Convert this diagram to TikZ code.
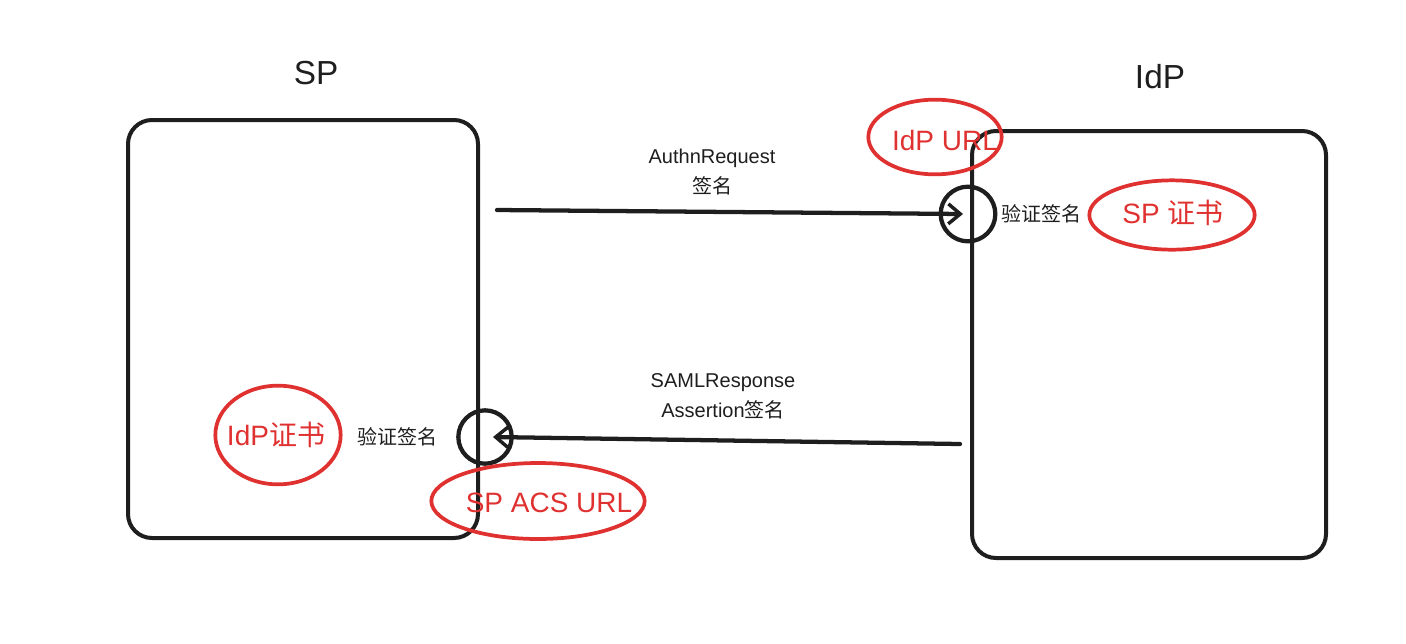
\documentclass[tikz,border=0pt]{standalone}
\usepackage{fontspec}
\setmainfont{Liberation Sans}
\newfontfamily\cjk{Noto Sans CJK SC}
\usetikzlibrary{arrows.meta,positioning}
\definecolor{inkblack}{HTML}{1E1E1E}
\definecolor{inkred}{HTML}{E03131}

\begin{document}
\begin{tikzpicture}
    [x=0.75pt,y=-0.75pt,
     party/.style={draw=inkblack,line width=3pt,rounded corners=18pt,inner sep=0pt},
     title/.style={font=\fontsize{25}{30}\selectfont,text=inkblack},
     check/.style={shape=circle,draw=inkblack,line width=3.2pt,inner sep=0pt},
     msg/.style={draw=inkblack,line width=3.2pt,line cap=round,-{Straight Barb[length=9pt,width=15pt,line width=2.6pt]}},
     note/.style={font=\fontsize{15}{22.5}\selectfont,text=inkblack,align=center,inner sep=1pt},
     redtxt/.style={font=\fontsize{21}{25}\selectfont,text=inkred,inner sep=1pt},
     ring/.style={draw=inkred,line width=2.8pt}]
    \useasboundingbox (0,0) rectangle (1406,643);
    % the two parties
    \node [party,minimum width=262.5pt,minimum height=313.5pt] (sp) at (303,329) {};
    \node [party,minimum width=265.5pt,minimum height=320.25pt] (idp) at (1149,344.5) {};
    \node [title] (sptitle) at (316,73) {SP};
    \node [title] (idptitle) at (1160,77) {IdP};
    % signature checks
    \node [check,minimum size=41pt] (chkidp) at (968,214) {};
    \node [check,minimum size=40pt] (chksp) at (485,437) {};
    \node [note,right=2pt of chkidp] (verifyidp) {\cjk 验证签名};
    \node [note,left=13pt of chksp] (verifysp) {\cjk 验证签名};
    % messages
    \coordinate (reqfrom) at (497,210);
    \coordinate (respfrom) at (960,444);
    \draw [msg] (reqfrom) -- ([xshift=-3.75pt]chkidp.center);
    \draw [msg] (respfrom) -- ([xshift=6pt]chksp.center);
    \node [note] (reqlabel) at (712,172) {AuthnRequest\\{\cjk 签名}};
    \node [note] (resplabel) at (723,396) {SAMLResponse\\Assertion{\cjk 签名}};
    % configured items
    \node [redtxt] (idpurl) at (945,140) {IdP URL};
    \node [redtxt] (spcert) at (1173,213) {SP {\cjk 证书}};
    \node [redtxt] (idpcert) at (276,435) {IdP{\cjk 证书}};
    \node [redtxt] (acsurl) at (549,503) {SP ACS URL};
    \draw [ring] ([xshift=-7.5pt,yshift=2.25pt]idpurl.center) ellipse [x radius=50pt,y radius=28pt];
    \draw [ring] ([xshift=-0.75pt,yshift=-1.5pt]spcert.center) ellipse [x radius=62pt,y radius=26pt];
    \draw [ring] ([xshift=1.5pt]idpcert.center) ellipse [x radius=47pt,y radius=37pt];
    \draw [ring] ([xshift=-8.25pt,yshift=1.5pt]acsurl.center) ellipse [x radius=80pt,y radius=28.5pt];
\end{tikzpicture}
\end{document}
